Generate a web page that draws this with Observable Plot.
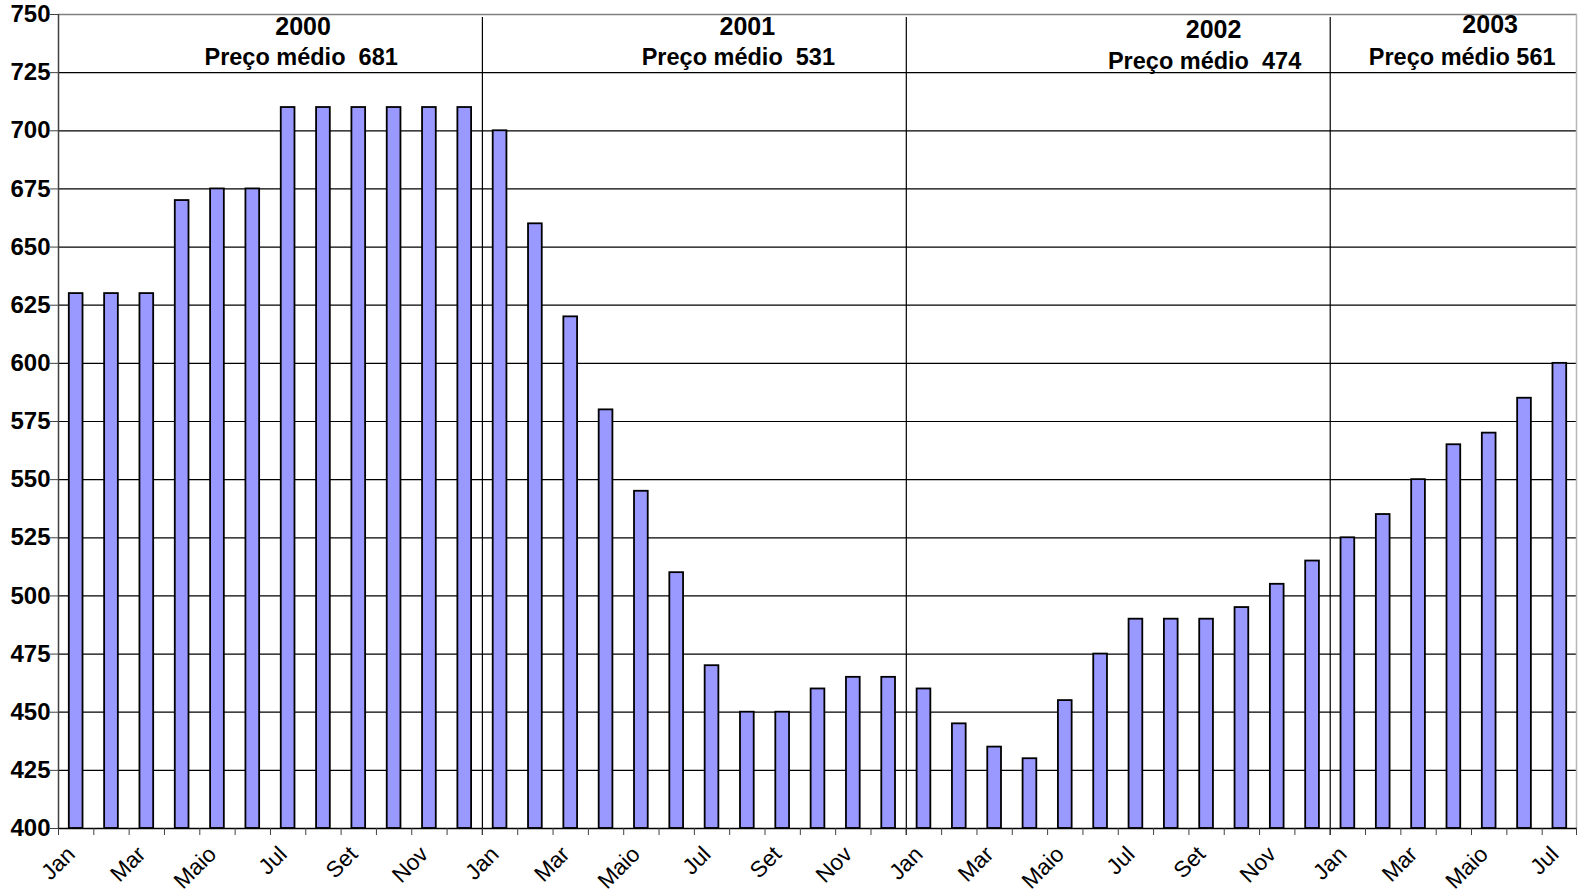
<!DOCTYPE html>
<html><head><meta charset="utf-8">
<script src="https://cdn.jsdelivr.net/npm/d3@7"></script>
<script src="https://cdn.jsdelivr.net/npm/@observablehq/plot@0.6"></script>
<style>
html,body{margin:0;padding:0;background:#fff}
svg{display:block}
</style>
</head><body><div id="chart"></div>
<script>
// ---- data ----
const years = ["2000", "2001", "2002", "2003"];
const months = ["Jan", "Fev", "Mar", "Abr", "Maio", "Jun", "Jul", "Ago", "Set", "Out", "Nov", "Dez"];
const prices2000 = [630, 630, 630, 670, 675, 675, 710, 710, 710, 710, 710, 710];
const prices2001 = [700, 660, 620, 580, 545, 510, 470, 450, 450, 460, 465, 465];
const prices2002 = [460, 445, 435, 430, 455, 475, 490, 490, 490, 495, 505, 515];
const prices2003 = [525, 535, 550, 565, 570, 585, 600];
const averagePrices = [681, 531, 474, 561];
const averageLabels = ["Preço médio\u00A0 681", "Preço médio\u00A0 531", "Preço médio\u00A0 474", "Preço médio 561"];
const yTicks = [400, 425, 450, 475, 500, 525, 550, 575, 600, 625, 650, 675, 700, 725, 750];
const labelledMonths = ["Jan", "Mar", "Maio", "Jul", "Set", "Nov"];

// ---- derived table ----
const series = [prices2000, prices2001, prices2002, prices2003];
const data = years.flatMap((yr, yi) =>
  series[yi].map((v, mi) => ({key: `${yr}-${mi}`, year: yr, month: months[mi], value: v})));
const keys = data.map(d => d.key);
const monthOf = new Map(data.map(d => [d.key, d.month]));
const yearStarts = years.slice(1).map(y => `${y}-0`);

// ---- layout ----
const W = 1581, H = 896, mL = 58, mR = 4, mT = 14, mB = 68;
const bw = (W - mL - mR) / keys.length;
// annotation placement: anchor month index within year, pixel offsets, baselines
const annoLayout = [
  {m: 6, dxY: 15, dxA: 13, baseY: 34, baseA: 64},
  {m: 7, dxY: 0, dxA: -9, baseY: 34, baseA: 64},
  {m: 8, dxY: 7, dxA: -2, baseY: 37, baseA: 68},
  {m: 4, dxY: 1, dxA: -27, baseY: 32, baseA: 64}
];

const font = "'Liberation Sans', Arial, Helvetica, sans-serif";

const annoMarks = years.flatMap((yr, i) => {
  const L = annoLayout[i];
  const k = `${yr}-${L.m}`;
  return [
    Plot.text([yr], {x: () => k, text: d => d, frameAnchor: "top", lineAnchor: "bottom",
      dy: L.baseY - mT, dx: L.dxY, fontSize: 25, fontWeight: "bold", fill: "black"}),
    Plot.text([averageLabels[i]], {x: () => k, text: d => d, frameAnchor: "top", lineAnchor: "bottom",
      dy: L.baseA - mT, dx: L.dxA, fontSize: 23.5, fontWeight: "bold", fill: "black"})
  ];
});

const chart = Plot.plot({
  width: W, height: H,
  marginLeft: mL, marginRight: mR, marginTop: mT, marginBottom: mB,
  style: {fontFamily: font, background: "#fff", color: "black"},
  x: {type: "band", domain: keys, padding: 0, round: false, axis: null},
  y: {domain: [yTicks[0], yTicks[yTicks.length - 1]], axis: null},
  marks: [
    Plot.ruleY(yTicks.slice(0, -1), {stroke: "black", strokeWidth: 1.2}),
    Plot.ruleY(yTicks.slice(-1), {stroke: "#808080", strokeWidth: 1.5}),
    Plot.ruleX([keys[keys.length - 1]], {dx: bw / 2 - 1, stroke: "#b8b8b8", strokeWidth: 1.5}),
    Plot.ruleX(yearStarts, {dx: -bw / 2, stroke: "black", strokeWidth: 1.2, insetTop: 3, insetBottom: -7}),
    Plot.barY(data, {x: "key", y1: yTicks[0], y2: "value", fill: "#9999ff", stroke: "black",
      strokeWidth: 1.8, insetLeft: 10.8, insetRight: 10.8}),
    Plot.ruleX([keys[0]], {dx: -bw / 2, stroke: "#404040", strokeWidth: 1.5}),
    Plot.ruleY(yTicks.slice(0, 1), {stroke: "black", strokeWidth: 1.5}),
    Plot.axisY({ticks: yTicks, tickSize: 8, tickPadding: 0, fontSize: 24, fontWeight: "bold",
      label: null, stroke: "#404040"}),
    Plot.axisX({ticks: keys, tickSize: 7, tickFormat: () => "", dx: -bw / 2, label: null, stroke: "#404040"}),
    Plot.axisX({ticks: keys.slice(-1), tickSize: 7, tickFormat: () => "", dx: bw / 2 - 1, label: null, stroke: "#404040"}),
    Plot.axisX({ticks: keys.filter(k => labelledMonths.includes(monthOf.get(k))), tickSize: 0,
      tickPadding: 22, dx: -5, tickRotate: -45, tickFormat: k => monthOf.get(k), fontSize: 22.5, label: null}),
    ...annoMarks
  ]
});
document.getElementById("chart").appendChild(chart);
</script>
</body></html>
